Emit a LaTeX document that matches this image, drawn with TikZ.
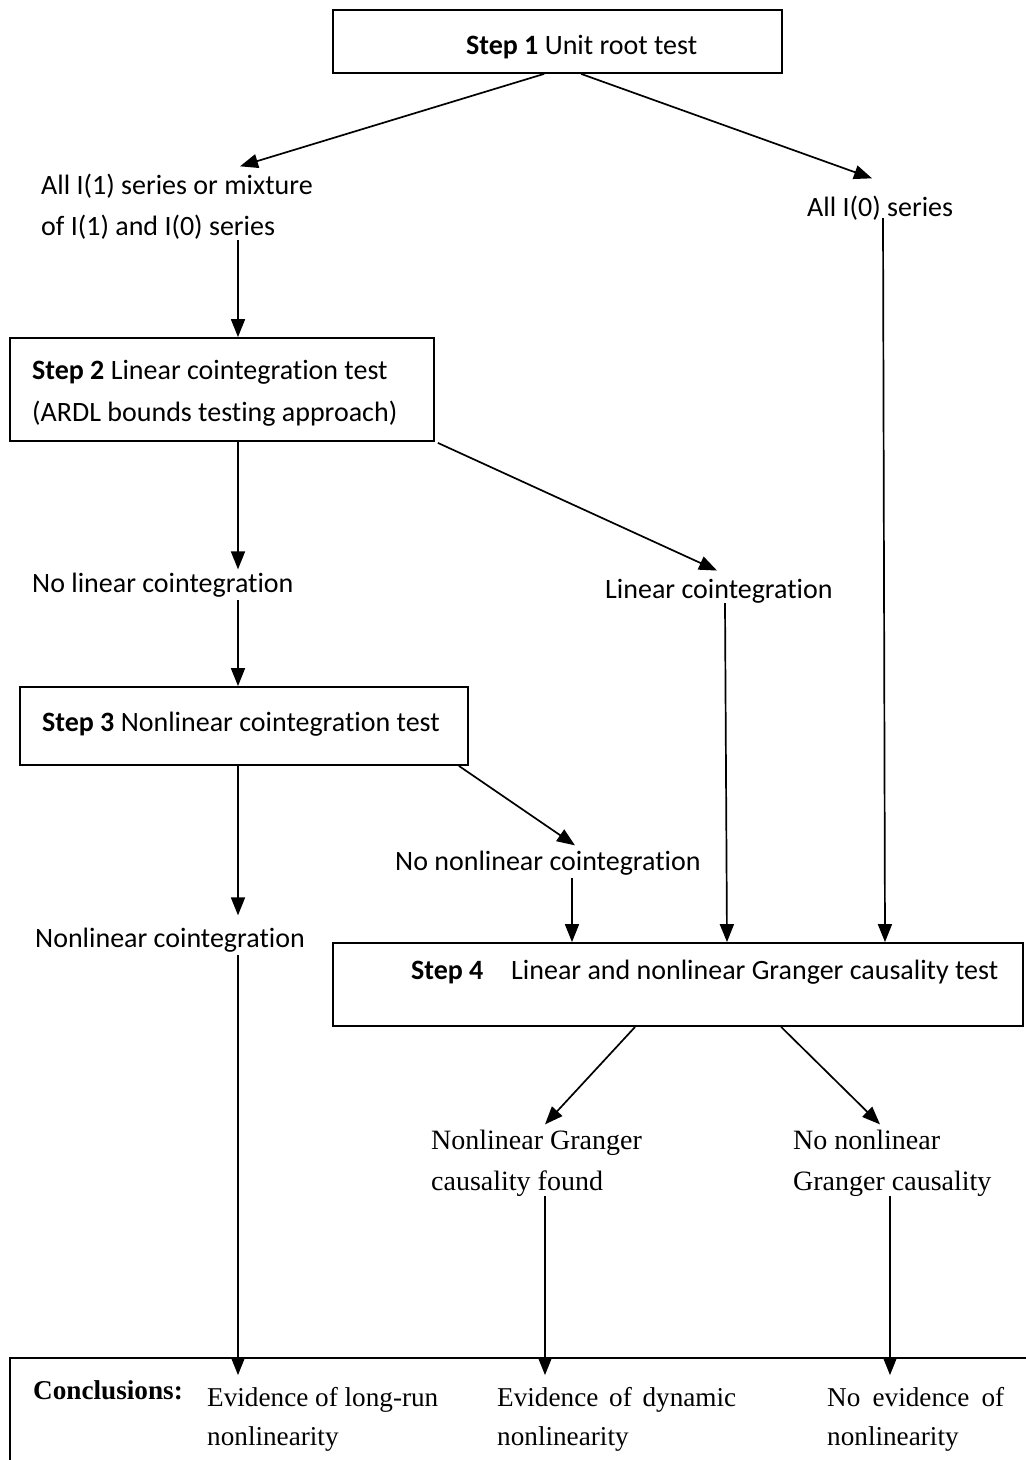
\documentclass[tikz,border=0pt]{standalone}
\usepackage{fontspec}
\setmainfont{Carlito}[RawFeature={-liga}]
\newfontfamily\tnr{Liberation Serif}
\usetikzlibrary{arrows.meta,calc}
\begin{document}
\begin{tikzpicture}[x=1pt,y=-1pt,
  box/.style={draw,line width=1.8pt,rectangle,inner sep=0pt},
  lbl/.style={anchor=base west,inner sep=0pt,font=\fontsize{28}{34}\selectfont},
  tlbl/.style={anchor=base west,inner sep=0pt,font=\tnr\fontsize{28}{34}\selectfont},
  clbl/.style={anchor=base west,inner sep=0pt,font=\tnr\fontsize{27.2}{34}\selectfont},
  arr/.style={line width=1.7pt,-{Triangle[length=18pt,width=14pt]}}]
\useasboundingbox (0,0) rectangle (1026,1460);
\clip (0,0) rectangle (1026,1460);
\fill[white] (0,0) rectangle (1026,1460);
% columns
\coordinate (c238) at (238,0);
\coordinate (c545) at (545,0);
\coordinate (c572) at (572,0);
\coordinate (c725) at (725,0);
\coordinate (c727) at (727,0);
\coordinate (c885) at (885,0);
\coordinate (c890) at (890,0);
% boxes
\node[box,minimum width=449pt,minimum height=63pt] (b1) at (557.5,41.5) {};
\node[box,minimum width=424pt,minimum height=103pt] (b2) at (222,389.5) {};
\node[box,minimum width=448pt,minimum height=78pt] (b3) at (244,726) {};
\node[box,minimum width=690pt,minimum height=83pt] (b4) at (678,984.5) {};
\node[box,minimum width=1050pt,minimum height=142pt] (b5) at (535,1429) {};
% texts
\node[lbl] (t1) at (466,54) {\textbf{Step 1} Unit root test};
\node[lbl] (a1) at (41,194) {All I(1) series or mixture};
\node[lbl] (a2) at (41,235) {of I(1) and I(0) series};
\node[lbl] (r1) at (807,216) {All I(0) series};
\node[lbl] (t2a) at (32,379) {\textbf{Step 2} Linear cointegration test};
\node[lbl] (t2b) at (32,421) {(ARDL bounds testing approach)};
\node[lbl] (n1) at (32,592) {No linear cointegration};
\node[lbl] (l1) at (605,598) {Linear cointegration};
\node[lbl] (t3) at (42,731) {\textbf{Step 3} Nonlinear cointegration test};
\node[lbl] (nn) at (395,870) {No nonlinear cointegration};
\node[lbl] (nc) at (35,947) {Nonlinear cointegration};
\node[lbl] (t4) at (411,979) {\makebox[100pt][l]{\textbf{Step 4}}Linear and nonlinear Granger causality test};
\node[tlbl] (g1) at (431,1149) {Nonlinear Granger};
\node[tlbl] (g2) at (431,1190) {causality found};
\node[tlbl] (h1) at (793,1149) {No nonlinear};
\node[tlbl] (h2) at (793,1190) {Granger causality};
\node[clbl] (cc) at (33,1399) {\textbf{Conclusions:}};
\node[clbl] (e1) at (207,1406) {Evidence of long-run};
\node[clbl] (e2) at (207,1445) {nonlinearity};
\node[clbl] (d1) at (497,1406) {\makebox[239pt][s]{Evidence of dynamic}};
\node[clbl] (d2) at (497,1445) {nonlinearity};
\node[clbl] (f1) at (827,1406) {\makebox[177pt][s]{No evidence of}};
\node[clbl] (f2) at (827,1445) {nonlinearity};
% connectors
\draw[arr] ($(b1.south west)+(212,0)$) -- ($(a1.north west)+(199,-7)$);
\draw[arr] ($(b1.south west)+(249,0)$) -- ($(r1.north west)+(65,-17)$);
\draw[arr] ($(a2.south -| c238)+(0,1)$) -- (b2.north -| c238);
\draw[arr] (b2.south -| c238) -- ($(n1.north -| c238)+(0,-3)$);
\draw[arr] ($(b2.south east)+(3,1)$) -- ($(l1.north west)+(112,-8)$);
\draw[arr] ($(n1.south -| c238)+(0,3)$) -- (b3.north -| c238);
\draw[arr] (b3.south -| c238) -- ($(nc.north -| c238)+(0,-12)$);
\draw[arr] ($(b3.south east)+(-10,0)$) -- ($(nn.north west)+(180,-5)$);
\draw[arr] ($(nn.south -| c572)+(0,3)$) -- (b4.north -| c572);
\draw[arr] (l1.south -| c725) -- (b4.north -| c727);
\draw[arr] ($(r1.south west)+(76,-2)$) -- (b4.north -| c885);
\draw[arr] ($(b4.south west)+(303,0)$) -- ($(g1.north west)+(114,-5)$);
\draw[arr] ($(b4.south west)+(449,0)$) -- ($(h1.north west)+(87,-5)$);
\draw[arr] ($(nc.south -| c238)+(0,3)$) -- ($(b5.north -| c238)+(0,18)$);
\draw[arr] (g2.south -| c545) -- ($(b5.north -| c545)+(0,18)$);
\draw[arr] (h2.south -| c890) -- ($(b5.north -| c890)+(0,18)$);
\end{tikzpicture}
\end{document}
